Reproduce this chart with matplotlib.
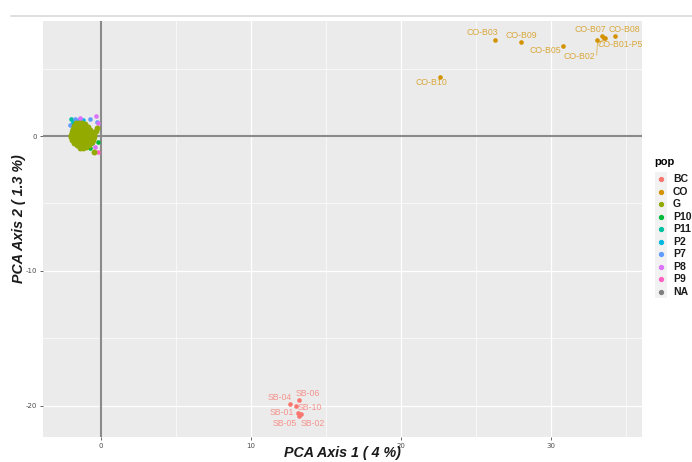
import matplotlib
matplotlib.use("Agg")
import matplotlib.pyplot as plt
from matplotlib.lines import Line2D
from matplotlib.patches import Rectangle

plt.rcParams["axes.unicode_minus"] = False

# ---------------- data ----------------
pops = ["BC", "CO", "G", "P10", "P11", "P2", "P7", "P8", "P9", "NA"]
pop_colors = ["#F8766D", "#D39200", "#93AA00", "#00BA38", "#00C19F",
              "#00B9E3", "#619CFF", "#DB72FB", "#FF61C3", "#7F7F7F"]

co_labels = ["CO-B10", "CO-B03", "CO-B09", "CO-B05", "CO-B02", "CO-B07", "CO-B01-P5", "CO-B06", "CO-B08"]
co_x = [22.6, 26.3, 28.0, 30.8, 33.1, 33.4, 33.55, 33.6, 34.3]
co_y = [4.39, 7.10, 6.98, 6.69, 7.11, 7.40, 7.30, 7.26, 7.39]
co_show = [True, True, True, True, True, True, True, False, True]
co_text_x = [22.0, 25.4, 28.0, 29.6, 31.9, 32.6, 34.6, 0, 34.9]
co_text_y = [3.98, 7.69, 7.49, 6.33, 5.88, 7.91, 6.80, 0, 7.91]

sb_labels = ["SB-04", "SB-10", "SB-06", "SB-01", "SB-05", "SB-02"]
sb_x = [12.6, 13.0, 13.2, 13.15, 13.2, 13.3]
sb_y = [-19.9, -20.0, -19.56, -20.55, -20.74, -20.62]
sb_text_x = [11.93, 13.93, 13.8, 12.07, 12.27, 14.13]
sb_text_y = [-19.36, -20.1, -19.07, -20.47, -21.29, -21.29]

g_x = [-1.7, -1.5, -1.3, -1.1,
       -1.8, -1.6, -1.4, -1.2, -1.0, -0.85,
       -1.9, -1.7, -1.5, -1.3, -1.1, -0.9, -0.72,
       -1.95, -1.75, -1.55, -1.35, -1.15, -0.95, -0.75, -0.58,
       -2.0, -1.8, -1.6, -1.4, -1.2, -1.0, -0.8, -0.62, -0.47,
       -2.0, -1.8, -1.6, -1.4, -1.2, -1.0, -0.8, -0.62, -0.47,
       -1.92, -1.72, -1.52, -1.32, -1.12, -0.92, -0.72, -0.52,
       -1.82, -1.62, -1.42, -1.22, -1.02, -0.82, -0.62,
       -1.62, -1.42, -1.22, -1.02, -0.82,
       -1.42, -1.22, -1.02,
       -0.29, -0.45, -0.35]
g_y = [0.95, 0.98, 0.96, 0.92,
       0.72, 0.75, 0.74, 0.73, 0.70, 0.66,
       0.52, 0.53, 0.55, 0.54, 0.52, 0.50, 0.47,
       0.31, 0.32, 0.33, 0.33, 0.32, 0.31, 0.30, 0.28,
       0.10, 0.11, 0.12, 0.12, 0.11, 0.10, 0.10, 0.09, 0.08,
       -0.10, -0.10, -0.11, -0.11, -0.10, -0.10, -0.10, -0.09, -0.08,
       -0.30, -0.31, -0.32, -0.32, -0.31, -0.30, -0.30, -0.28,
       -0.50, -0.52, -0.53, -0.53, -0.52, -0.50, -0.48,
       -0.70, -0.72, -0.73, -0.72, -0.70,
       -0.86, -0.88, -0.85,
       0.60, -1.16, 0.40]

p10_x = [-0.73, -0.18, -0.62, -1.6]
p10_y = [-0.91, -0.47, -0.50, -0.3]
p11_x = [-2.0, -1.95, -1.0]
p11_y = [1.26, 0.9, -0.6]
p2_x = [-1.85, -1.2, -0.9]
p2_y = [1.1, 1.2, 0.2]
p7_x = [-0.73, -1.73, -1.4, -0.29, -1.96, -1.55, -2.05]
p7_y = [1.26, 1.26, 1.26, 1.06, 0.44, 1.2, 0.8]
p8_x = [-0.33, -0.22, -1.4, -0.4, -1.18]
p8_y = [1.50, 0.94, 1.31, -0.79, -0.91]
p9_x = [-0.22, -1.18, -1.5]
p9_y = [-1.16, -0.87, 0.6]
na_x = [-1.3]
na_y = [0.0]

# ---------------- figure ----------------
fig = plt.figure(figsize=(6.92, 4.62), dpi=100)
ax = fig.add_axes([43/692, 1-436.7/462, (642-43)/692, (436.7-21)/462])
ax.set_facecolor("#EBEBEB")

ax.set_xticks([0, 10, 20, 30])
ax.set_yticks([-20, -10, 0])
ax.set_xticks([5, 15, 25, 35], minor=True)
ax.set_yticks([-15, -5, 5], minor=True)
ax.set_xlim(-3.87, 36.07)
ax.set_ylim(-22.3, 8.53)
ax.grid(which="major", color="white", lw=0.9, zorder=0)
ax.grid(which="minor", color="white", lw=0.45, zorder=0)
ax.set_axisbelow(True)
for s in ax.spines.values():
    s.set_visible(False)
ax.tick_params(which="major", length=2.5, width=0.6, color="#4d4d4d",
               labelsize=5, labelcolor="#4d4d4d", pad=2)
ax.tick_params(which="minor", length=0)

ax.axhline(0, color="#8a8a8a", lw=1.5, zorder=1)
ax.axvline(0, color="#8a8a8a", lw=1.5, zorder=1)

ms = 11
ax.scatter(na_x, na_y, s=ms, color=pop_colors[9], zorder=2, lw=0)
for xs, ys, c in [(p2_x, p2_y, pop_colors[5]), (p11_x, p11_y, pop_colors[4]),
                  (p10_x, p10_y, pop_colors[3]), (p7_x, p7_y, pop_colors[6]),
                  (p8_x, p8_y, pop_colors[7]), (p9_x, p9_y, pop_colors[8])]:
    ax.scatter(xs, ys, s=ms, color=c, zorder=2, lw=0)
ax.scatter(g_x, g_y, s=18, color=pop_colors[2], zorder=3, lw=0)

ax.scatter(co_x, co_y, s=ms, color=pop_colors[1], zorder=3, lw=0)
ax.scatter(sb_x, sb_y, s=ms, color=pop_colors[0], zorder=3, lw=0)

lab_font = dict(family=["Liberation Sans", "DejaVu Sans"], fontsize=6.3)
for lab, x, y, tx, ty, show in zip(co_labels, co_x, co_y, co_text_x, co_text_y, co_show):
    if not show:
        continue
    ax.text(tx, ty, lab, color=pop_colors[1], alpha=0.75, ha="center", va="center", **lab_font)
# repel segments
ax.plot([co_x[4], co_x[4] - 0.05], [co_y[4] - 0.15, co_y[4] - 1.1], color=pop_colors[1], lw=0.5, alpha=0.75)
ax.plot([co_x[6], co_x[6] - 0.25, co_x[6] - 0.25], [co_y[6] - 0.1, co_y[6] - 0.3, co_y[6] - 0.45],
        color=pop_colors[1], lw=0.5, alpha=0.75)
for lab, tx, ty in zip(sb_labels, sb_text_x, sb_text_y):
    ax.text(tx, ty, lab, color=pop_colors[0], alpha=0.75, ha="center", va="center", **lab_font)

title_font = dict(family=["Liberation Sans", "DejaVu Sans"], fontsize=10.3,
                  fontweight="bold", fontstyle="italic", color="#1a1a1a")
fig.text(342/692, 1-453/462, "PCA Axis 1 ( 4 %)", ha="center", va="center", **title_font)
fig.text(19/692, 1-219/462, "PCA Axis 2 ( 1.3 %)", ha="center", va="center",
         rotation=90, **title_font)

# legend
fig.text(654/692, 1-162/462, "pop", ha="left", va="center",
         family=["Liberation Sans", "DejaVu Sans"], fontsize=8, fontweight="bold")
fig.patches.append(Rectangle((655/692, 1-298/462), 12/692, 126/462,
                             transform=fig.transFigure, color="#F2F2F2", lw=0))
for i, (p, c) in enumerate(zip(pops, pop_colors)):
    yy = 1 - (179.3 + i * 12.48) / 462
    fig.add_artist(Line2D([661/692], [yy], marker="o", markersize=2.8,
                          color=c, lw=0, transform=fig.transFigure))
    fig.text(673/692, yy, p, ha="left", va="center",
             family=["Liberation Sans", "DejaVu Sans"], fontsize=7.5, fontweight="bold",
             color="#1a1a1a")

# top separator line
fig.add_artist(Line2D([11/692, 1.0], [1-16/462, 1-16/462], color="#d9d9d9", lw=1.2,
                      transform=fig.transFigure))

fig.savefig("out.png", dpi=100)
